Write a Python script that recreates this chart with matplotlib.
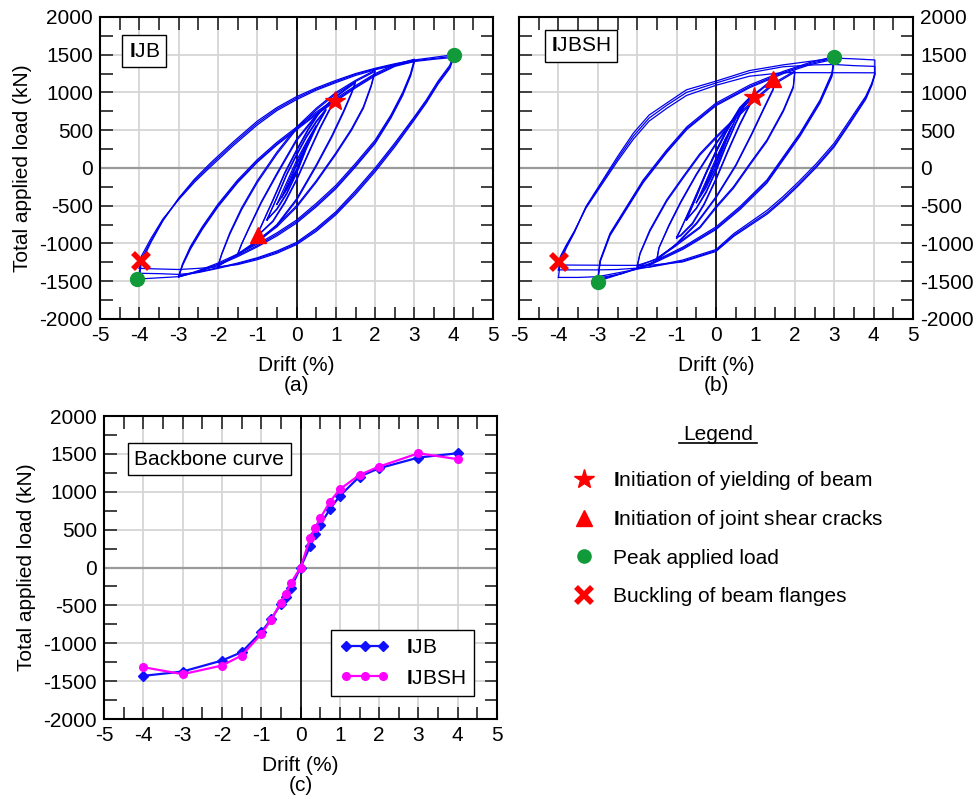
import matplotlib
matplotlib.use("Agg")
import matplotlib.pyplot as plt
from matplotlib.ticker import MultipleLocator

# ---------------- data ----------------
# drift paths (%) for one full cycle: upper branch (-a -> +a) then lower branch back
D4_IJB = [-4.0, -3.95, -3.7, -3.4, -3.0, -2.6, -2.2, -1.6, -1.0, -0.5, 0.0, 0.5, 1.0, 1.5, 2.0, 2.5, 3.0, 3.5, 4.0,
          3.9, 3.6, 3.3, 3.0, 2.5, 2.0, 1.5, 1.0, 0.5, 0.0, -0.5, -1.0, -1.5, -2.0, -2.5, -3.0, -3.5, -4.0]
D3_IJB = [-3.0, -2.9, -2.7, -2.4, -2.0, -1.5, -1.0, -0.5, 0.0, 0.5, 1.0, 1.5, 2.0, 2.5, 3.0,
          2.9, 2.7, 2.4, 2.0, 1.5, 1.0, 0.5, 0.0, -0.5, -1.0, -1.5, -2.0, -2.5, -3.0]
D2_IJB = [-2.0, -1.9, -1.7, -1.4, -1.0, -0.5, 0.0, 0.5, 1.0, 1.5, 2.0,
          1.9, 1.7, 1.4, 1.0, 0.5, 0.0, -0.5, -1.0, -1.5, -2.0]
D15_IJB = [-1.5, -1.4, -1.2, -0.9, -0.5, 0.0, 0.5, 1.0, 1.5,
           1.4, 1.2, 0.9, 0.5, 0.0, -0.5, -1.0, -1.5]
D1 = [-1.0, -0.9, -0.6, -0.3, 0.0, 0.3, 0.6, 0.9, 1.0,
      0.9, 0.6, 0.3, 0.0, -0.3, -0.6, -0.9, -1.0]
D075 = [-0.75, -0.5, -0.25, 0.0, 0.25, 0.5, 0.75, 0.5, 0.25, 0.0, -0.25, -0.5, -0.75]
D05 = [-0.5, -0.25, 0.0, 0.25, 0.5, 0.25, 0.0, -0.25, -0.5]
D0375 = [-0.375, -0.2, 0.0, 0.2, 0.375, 0.2, 0.0, -0.2, -0.375]
D025 = [-0.25, 0.0, 0.25, 0.0, -0.25]

D4_SH = [-4.0, -3.95, -3.8, -3.6, -3.3, -2.9, -2.5, -2.1, -1.7, -1.25, -0.75, 0.0, 0.85, 1.7, 2.5, 3.0, 3.5, 4.03,
         4.03, 3.95, 3.8, 3.4, 3.0, 2.55, 2.1, 1.7, 1.3, 0.45, 0.0, -0.85, -1.7, -2.5, -3.0, -3.5, -4.0]
D3_SH = [-3.0, -2.94, -2.69, -2.27, -1.85, -1.25, -0.74, 0.0, 0.86, 1.71, 2.4, 3.0,
         2.94, 2.64, 2.13, 1.71, 1.29, 0.61, 0.0, -0.83, -1.68, -2.4, -3.0]
D2_SH = [-2.0, -1.93, -1.68, -1.25, -0.83, -0.41, 0.0, 0.44, 0.95, 1.45, 2.0,
         1.96, 1.71, 1.29, 0.86, 0.44, 0.0, -0.41, -1.08, -1.51, -2.0]
D15_SH = [-1.5, -1.45, -1.2, -0.9, -0.5, 0.0, 0.5, 1.0, 1.5,
          1.45, 1.2, 0.9, 0.5, 0.0, -0.5, -1.0, -1.5]

# loads (kN) of each cycle, IJB
P4_IJB = [
    [-1470, -1250, -980, -700, -400, -150, 60, 350, 620, 800, 945, 1060, 1160, 1250, 1320, 1380, 1430, 1465, 1500,
     1360, 1150, 900, 680, 330, 0, -300, -580, -800, -985, -1100, -1190, -1260, -1320, -1380, -1440, -1455, -1470],
    [-1395, -1210, -960, -690, -410, -170, 35, 325, 595, 780, 925, 1045, 1145, 1240, 1310, 1370, 1420, 1450, 1480,
     1340, 1130, 880, 660, 305, -25, -325, -600, -820, -1000, -1115, -1200, -1270, -1330, -1385, -1410, -1400, -1395],
    [-1330, -1170, -930, -675, -420, -190, 10, 300, 570, 760, 905, 1030, 1130, 1225, 1300, 1360, 1410, 1440, 1465,
     1320, 1110, 860, 640, 280, -50, -350, -620, -840, -1015, -1130, -1215, -1280, -1310, -1330, -1345, -1338, -1330],
]
P3_IJB = [
    [-1445, -1270, -1040, -780, -480, -160, 110, 340, 540, 740, 920, 1090, 1250, 1370, 1440,
     1250, 1000, 700, 370, 60, -230, -470, -690, -860, -1010, -1140, -1260, -1360, -1445],
    [-1440, -1280, -1060, -800, -500, -180, 90, 320, 520, 720, 900, 1075, 1235, 1355, 1420,
     1230, 980, 680, 345, 35, -255, -495, -710, -880, -1030, -1160, -1275, -1370, -1440],
    [-1425, -1290, -1075, -815, -515, -195, 75, 305, 505, 705, 885, 1060, 1220, 1345, 1410,
     1215, 960, 660, 325, 15, -275, -515, -730, -900, -1045, -1175, -1290, -1375, -1425],
]
P2_IJB = [
    [-1305, -1130, -860, -530, -170, 210, 540, 790, 1000, 1160, 1295,
     1100, 810, 520, 200, -170, -500, -760, -960, -1140, -1305],
    [-1290, -1140, -880, -555, -195, 185, 515, 770, 980, 1145, 1280,
     1080, 790, 500, 180, -190, -520, -780, -975, -1150, -1290],
]
P15_IJB = [
    [-1150, -1010, -780, -450, -70, 380, 700, 950, 1145, 1000, 760, 430, 40, -410, -750, -980, -1150],
    [-1140, -1010, -790, -465, -90, 360, 685, 940, 1130, 985, 740, 410, 20, -430, -765, -990, -1140],
]
P1_IJB = [
    [-880, -770, -420, -60, 240, 520, 760, 900, 940, 840, 540, 200, -150, -450, -700, -850, -880],
    [-870, -770, -430, -75, 225, 505, 745, 890, 925, 825, 525, 185, -165, -465, -710, -855, -870],
]
P075_IJB = [
    [-690, -390, -80, 180, 420, 620, 780, 550, 270, -60, -330, -540, -690],
    [-680, -395, -90, 165, 405, 605, 765, 535, 255, -75, -345, -550, -680],
]
P05_IJB = [[-480, -190, 100, 340, 565, 300, -40, -290, -480]]
P0375_IJB = [[-385, -170, 60, 270, 440, 230, -30, -230, -385]]
P025_IJB = [[-275, 40, 290, -20, -275]]

# loads (kN) of each cycle, IJBSH
P4_SH = [
    [-1450, -1240, -1060, -860, -510, -180, 150, 460, 700, 860, 1035, 1150, 1290, 1365, 1420, 1455, 1445, 1430,
     1250, 1120, 950, 640, 330, 60, -180, -380, -560, -870, -1080, -1220, -1310, -1390, -1440, -1450, -1450],
    [-1350, -1200, -1040, -850, -520, -200, 120, 420, 660, 830, 1000, 1125, 1260, 1340, 1365, 1370, 1355, 1345,
     1240, 1100, 930, 610, 300, 30, -210, -410, -590, -890, -1095, -1235, -1315, -1345, -1350, -1350, -1350],
    [-1285, -1170, -1020, -840, -530, -220, 90, 380, 620, 790, 960, 1095, 1215, 1262, 1262, 1261, 1261, 1260,
     1230, 1090, 910, 590, 280, 10, -230, -430, -610, -905, -1105, -1245, -1290, -1290, -1288, -1287, -1285],
]
P3_SH = [
    [-1500, -1220, -865, -512, -160, 240, 545, 860, 1100, 1280, 1400, 1475,
     1255, 900, 460, 150, -160, -510, -780, -1045, -1265, -1400, -1500],
    [-1480, -1230, -880, -530, -180, 220, 525, 840, 1080, 1265, 1385, 1455,
     1230, 880, 440, 130, -180, -530, -800, -1060, -1275, -1400, -1480],
    [-1460, -1240, -895, -545, -195, 205, 510, 825, 1065, 1250, 1370, 1440,
     1210, 860, 420, 110, -200, -550, -815, -1075, -1285, -1400, -1460],
]
P2_SH = [
    [-1310, -1130, -820, -420, -110, 190, 415, 640, 900, 1120, 1285,
     1080, 770, 370, 60, -250, -510, -780, -1040, -1200, -1310],
    [-1290, -1140, -840, -440, -130, 170, 395, 620, 880, 1100, 1270,
     1060, 750, 350, 40, -270, -530, -795, -1055, -1210, -1290],
]
P15_SH = [
    [-1220, -1060, -760, -450, -80, 330, 700, 990, 1200, 1050, 780, 450, 40, -380, -730, -1000, -1220],
    [-1200, -1060, -775, -465, -95, 315, 685, 975, 1185, 1035, 765, 435, 25, -395, -745, -1010, -1200],
]
P1_SH = [
    [-930, -820, -470, -110, 230, 540, 800, 960, 1000, 890, 580, 230, -140, -470, -730, -890, -930],
    [-915, -815, -480, -125, 215, 525, 785, 945, 985, 875, 565, 215, -155, -485, -745, -900, -915],
]
P075_SH = [
    [-690, -380, -60, 220, 480, 700, 870, 600, 300, -30, -310, -530, -690],
    [-680, -385, -70, 205, 465, 685, 855, 585, 285, -45, -325, -540, -680],
]
P05_SH = [[-460, -170, 130, 400, 650, 350, 10, -260, -460]]
P0375_SH = [[-350, -150, 90, 320, 530, 290, 10, -180, -350]]
P025_SH = [[-207, 90, 396, 60, -207]]

# damage events (drift %, load kN)
IJB_YIELD = [0.98, 890]
IJB_CRACK = [-0.97, -887]
IJB_PEAK = [[4.0, -4.05], [1500, -1471]]
IJB_BUCKLE = [-3.97, -1238]
SH_YIELD = [0.96, 936]
SH_CRACK = [1.44, 1179]
SH_PEAK = [[3.0, -3.0], [1474, -1506]]
SH_BUCKLE = [-3.98, -1241]

# backbone curves
BB_DRIFT = [-4, -3, -2, -1.5, -1, -0.75, -0.5, -0.375, -0.25, 0, 0.25, 0.375, 0.5, 0.75, 1, 1.5, 2, 3, 4]
BB_IJB = [-1430, -1373, -1228, -1118, -854, -682, -480, -383, -273, 0, 290, 440, 563, 774, 946, 1201, 1311, 1452, 1509]
BB_IJBSH = [-1316, -1408, -1294, -1162, -880, -691, -462, -348, -207, 0, 396, 528, 651, 871, 1034, 1223, 1333, 1509, 1430]

LEGEND_TEXT = ["Initiation of yielding of beam", "Initiation of joint shear cracks",
               "Peak applied load", "Buckling of beam flanges"]

# ---------------- style ----------------
plt.rcParams['font.family'] = ['Liberation Sans', 'DejaVu Sans']
plt.rcParams['font.size'] = 15
plt.rcParams['axes.unicode_minus'] = False
plt.rcParams['mathtext.fontset'] = 'custom'
plt.rcParams['mathtext.rm'] = 'Liberation Sans'
plt.rcParams['mathtext.bf'] = 'Liberation Sans:bold'

RED = '#ff0000'
GREEN = '#119a3a'
BLUE = '#0000f0'


def style_axes(ax, right=False):
    ax.set_xlim(-5, 5)
    ax.set_ylim(-2000, 2000)
    ax.xaxis.set_major_locator(MultipleLocator(1))
    ax.xaxis.set_minor_locator(MultipleLocator(0.5))
    ax.yaxis.set_major_locator(MultipleLocator(500))
    ax.yaxis.set_minor_locator(MultipleLocator(250))
    ax.tick_params(which='both', direction='in', length=9, width=1.3, color='#333333',
                   top=True, right=True, left=True, bottom=True, pad=5)
    if right:
        ax.tick_params(labelleft=False, labelright=True)
    ax.grid(True, which='major', color='#d6d6d6', lw=1.3)
    ax.set_axisbelow(True)
    ax.axvline(0, color='black', lw=1.2, zorder=1.5)
    ax.axhline(0, color='#9a9a9a', lw=1.6, zorder=1.5)
    for s in ax.spines.values():
        s.set_linewidth(1.5)


def draw_loops(ax, loops):
    for drift, cycles in loops:
        for load in cycles:
            ax.plot(drift, load, color=BLUE, lw=0.9, zorder=3)


def draw_events(ax, yld, crack, peak, buckle):
    ax.plot(*yld, marker='*', ms=15, color=RED, ls='none', zorder=5)
    ax.plot(*crack, marker='^', ms=12, color=RED, ls='none', zorder=5)
    ax.plot(peak[0], peak[1], marker='o', ms=10, color=GREEN, ls='none', zorder=5)
    ax.plot(*buckle, marker='x', ms=12, mew=4, color=RED, ls='none', zorder=5)


fig = plt.figure(figsize=(9.76, 7.99), dpi=100)
ax_a = fig.add_axes([0.1025, 0.6008, 0.4027, 0.378])
ax_b = fig.add_axes([0.5318, 0.6008, 0.4037, 0.378])
ax_c = fig.add_axes([0.1066, 0.1001, 0.4027, 0.3792])

ijb_loops = [(D025, P025_IJB), (D0375, P0375_IJB), (D05, P05_IJB), (D075, P075_IJB), (D1, P1_IJB),
             (D15_IJB, P15_IJB), (D2_IJB, P2_IJB), (D3_IJB, P3_IJB), (D4_IJB, P4_IJB)]
sh_loops = [(D025, P025_SH), (D0375, P0375_SH), (D05, P05_SH), (D075, P075_SH), (D1, P1_SH),
            (D15_SH, P15_SH), (D2_SH, P2_SH), (D3_SH, P3_SH), (D4_SH, P4_SH)]

# (a) IJB
style_axes(ax_a)
draw_loops(ax_a, ijb_loops)
draw_events(ax_a, IJB_YIELD, IJB_CRACK, IJB_PEAK, IJB_BUCKLE)
ax_a.set_xlabel('Drift (%)\n(a)', linespacing=1.05, labelpad=8)
ax_a.set_ylabel('Total applied load (kN)', labelpad=5)
ax_a.text(0.112, 0.887, r'$\mathbf{I}$JB', transform=ax_a.transAxes, ha='center', va='center', zorder=6,
          bbox=dict(boxstyle='square,pad=0.3', fc='white', ec='black', lw=1))

# (b) IJBSH
style_axes(ax_b, right=True)
draw_loops(ax_b, sh_loops)
draw_events(ax_b, SH_YIELD, SH_CRACK, SH_PEAK, SH_BUCKLE)
ax_b.set_xlabel('Drift (%)\n(b)', linespacing=1.05, labelpad=8)
ax_b.text(0.157, 0.904, r'$\mathbf{I}$JBSH', transform=ax_b.transAxes, ha='center', va='center', zorder=6,
          bbox=dict(boxstyle='square,pad=0.3', fc='white', ec='black', lw=1))

# (c) backbone curves
style_axes(ax_c)
ax_c.plot(BB_DRIFT, BB_IJB, color='#1010ff', lw=1.6, marker='D', ms=5, label=r'$\mathbf{I}$JB', zorder=4)
ax_c.plot(BB_DRIFT, BB_IJBSH, color='#ff00ff', lw=1.6, marker='o', ms=5.5, label=r'$\mathbf{I}$JBSH', zorder=4)
ax_c.set_xlabel('Drift (%)\n(c)', linespacing=1.05, labelpad=8)
ax_c.set_ylabel('Total applied load (kN)', labelpad=5)
ax_c.text(0.268, 0.858, 'Backbone curve', transform=ax_c.transAxes, ha='center', va='center', zorder=6,
          bbox=dict(boxstyle='square,pad=0.3', fc='white', ec='black', lw=1))
leg = ax_c.legend(loc='lower right', numpoints=3, handlelength=2.4, fancybox=False, framealpha=1,
                  edgecolor='black', borderaxespad=1.1, labelspacing=0.55)
leg.get_frame().set_linewidth(1.0)
leg.set_zorder(7)

# legend of damage events (pixel coordinates of the figure)
ax_l = fig.add_axes([0, 0, 1, 1])
ax_l.set_xlim(0, 976)
ax_l.set_ylim(799, 0)
ax_l.axis('off')
ax_l.text(718, 434, 'Legend', ha='center', va='center')
ax_l.plot([679, 757], [443, 443], color='black', lw=1.2)
ev_markers = [dict(marker='*', ms=15), dict(marker='^', ms=12), dict(marker='o', ms=9.5, color=GREEN),
              dict(marker='x', ms=11, mew=4)]
for i, (txt, mk) in enumerate(zip(LEGEND_TEXT, ev_markers)):
    y = 479 + 38.5 * i
    style = dict(color=RED, ls='none')
    style.update(mk)
    ax_l.plot(584, y, **style)
    ax_l.text(613, y + 2, r'$\mathbf{I}$' + txt[1:] if txt.startswith('I') else txt, va='center', ha='left')

fig.savefig('out.png', dpi=100)
